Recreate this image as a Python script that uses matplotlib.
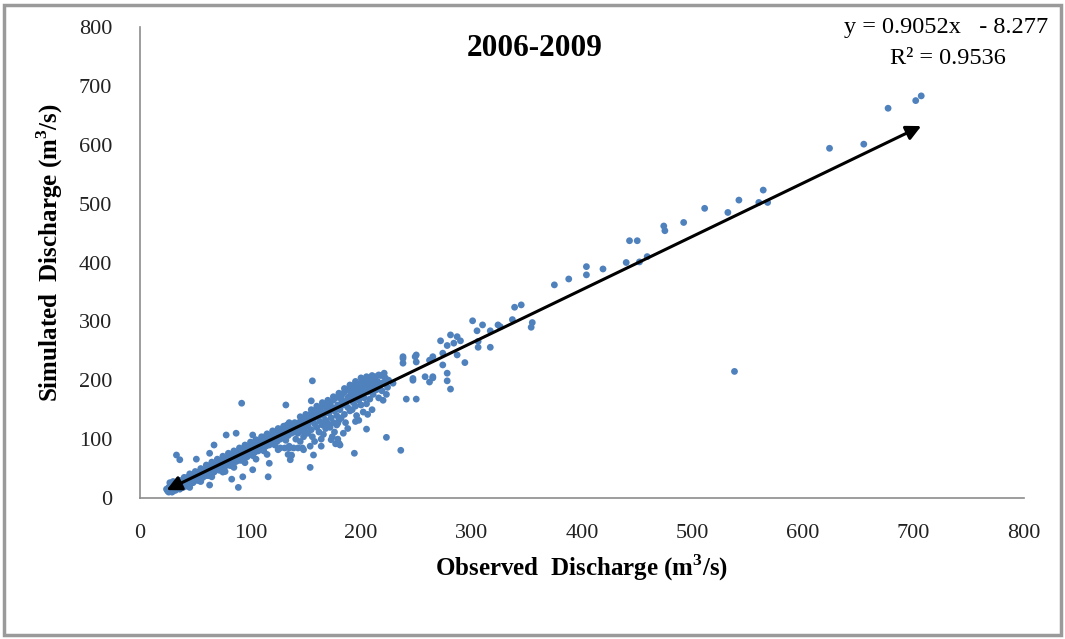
import matplotlib.pyplot as plt
from matplotlib.patches import Rectangle
import numpy as np

# trend line reported on the chart
slope = 0.9052
intercept = -8.277
r2 = 0.9536

# dense band at the low end (observed, simulated)
band_obs = [25, 26, 27, 28, 29, 30, 31, 32, 33, 34, 35, 27, 30, 36, 38, 37, 40, 40, 42, 43,
            44, 45, 46, 48, 48, 50, 50, 52, 53, 54, 55, 56, 57, 58, 60, 60, 62, 63, 64, 65,
            66, 67, 68, 70, 70, 72, 73, 74, 75, 76, 77, 78, 80, 80, 82, 83, 84, 85, 86, 87,
            88, 90, 90, 92, 93, 94, 95, 96, 97, 98, 100, 100, 102, 103, 104, 105, 106, 107, 108, 110,
            110, 112, 113, 114, 115, 116, 117, 118, 120, 120, 122, 123, 124, 125, 126, 127, 128, 130, 130, 132,
            133, 134, 135, 136, 137, 138, 140, 140, 142,
            30, 33, 36, 39, 41, 44, 47, 49, 51, 54, 57, 59, 61, 64, 66, 69, 71, 74, 76, 79,
            81, 84, 86, 89, 91, 94, 96, 99, 101, 104, 106, 109, 111, 114, 116, 119, 121, 124, 126, 129,
            131, 134, 136, 139,
            45, 55, 65, 75, 85, 95, 105, 115, 125, 135, 38, 24, 26, 29, 32,
            35, 40, 45, 50, 55, 60, 65, 70, 75, 80, 85, 90, 95, 100, 105, 110, 115, 120, 125, 130, 135,
            42, 52, 62, 72, 82, 92, 102, 112, 122, 132, 28, 31, 34]
band_sim = [12, 18, 14, 22, 10, 16, 20, 13, 25, 18, 22, 26, 28, 15, 20, 27, 24, 32, 28, 35,
            22, 30, 38, 33, 26, 40, 30, 36, 44, 29, 40, 48, 35, 42, 50, 38, 45, 55, 40, 50,
            58, 44, 52, 60, 48, 56, 64, 50, 60, 68, 54, 62, 70, 56, 66, 74, 58, 68, 76, 62,
            72, 80, 64, 74, 84, 68, 78, 86, 70, 82, 90, 74, 86, 94, 78, 88, 96, 80, 92, 100,
            84, 96, 104, 88, 100, 106, 90, 102, 108, 94, 106, 112, 96, 110, 116, 100, 112, 120, 104, 116,
            124, 106, 118, 126, 110, 122, 128, 112, 124,
            12, 15, 20, 18, 26, 30, 28, 36, 33, 38, 44, 40, 48, 52, 46, 56, 52, 62, 58, 66,
            62, 70, 68, 76, 72, 80, 76, 86, 82, 90, 88, 96, 92, 100, 98, 104, 102, 108, 106, 114,
            112, 118, 116, 124,
            18, 28, 36, 44, 52, 60, 66, 74, 82, 88, 30, 15, 10, 24, 19,
            30, 35, 41, 45, 50, 56, 61, 66, 71, 76, 80, 85, 90, 95, 99, 104, 109, 114, 118, 122, 128,
            20, 30, 38, 47, 55, 64, 72, 80, 90, 98, 20, 24, 28]

# main cloud between 140 and 225
cloud_obs = [141, 142, 143, 144, 145, 146, 147, 148, 149, 150, 141, 145, 148, 150,
             151, 152, 153, 154, 155, 155, 156, 157, 158, 159, 160, 160, 152, 156, 158, 154,
             161, 162, 163, 164, 165, 165, 166, 167, 168, 169, 170, 170, 162, 166, 168, 164,
             171, 172, 173, 174, 175, 175, 176, 177, 178, 179, 180, 180, 172, 176, 178, 174, 179, 177,
             181, 182, 183, 184, 185, 185, 186, 187, 188, 189, 190, 190, 182, 186, 188, 184,
             191, 192, 193, 194, 195, 195, 196, 197, 198, 199, 200, 200, 192, 196, 198,
             201, 202, 203, 204, 205, 205, 206, 207, 208, 209, 210, 210, 202, 206,
             211, 212, 213, 214, 215, 216, 217, 218, 219, 220, 222, 224, 221, 225, 223,
             127, 131, 135, 139, 143, 147, 134, 137,
             145, 150, 155, 160, 165, 170, 175, 180, 185, 190, 195, 200, 205, 210,
             152, 158, 163, 168, 173, 178, 183, 188, 193, 198, 203, 208, 213, 218]
cloud_sim = [118, 126, 110, 122, 130, 114, 126, 134, 118, 128, 100, 96, 104, 110,
             136, 122, 140, 130, 144, 116, 134, 148, 126, 140, 150, 120, 110, 104, 96, 88,
             138, 152, 130, 146, 156, 124, 140, 158, 132, 150, 160, 126, 112, 108, 118, 100,
             144, 162, 136, 154, 166, 128, 148, 170, 140, 158, 172, 132, 120, 112, 124, 104, 100, 92,
             150, 168, 176, 158, 180, 142, 164, 184, 154, 172, 186, 148, 136, 128, 118, 110,
             178, 190, 162, 182, 194, 156, 172, 188, 166, 180, 196, 158, 150, 140, 132,
             186, 198, 170, 190, 200, 160, 180, 194, 168, 186, 202, 150, 146, 142,
             176, 196, 206, 184, 198, 170, 190, 208, 182, 196, 204, 188, 212, 200, 176,
             85, 85, 85, 85, 85, 85, 74, 72,
             138, 142, 150, 156, 162, 166, 172, 178, 186, 192, 198, 204, 206, 208,
             128, 136, 142, 146, 150, 152, 164, 170, 172, 176, 180, 184, 190, 194]

# scattered points read one by one
spread_obs = [33, 36, 51, 67, 78, 87, 63, 102, 92, 63, 89, 93, 102, 116, 117, 83, 77,
              132, 155, 156, 223, 236, 194, 154, 205, 195, 181, 164, 136, 137, 148, 157, 173, 179, 180,
              241, 250, 229, 238, 249, 247, 220, 208, 216, 190,
              262, 265, 278, 281, 294, 272, 281, 287, 290, 278, 284, 274, 274, 278, 287, 265, 262,
              250, 250, 238, 238, 258, 265, 247,
              301, 310, 305, 317, 324, 326, 306, 317, 306, 337, 355, 354, 339, 345, 375, 388,
              404, 404, 419, 440, 443, 450, 452, 459, 474, 475, 492, 511, 532, 542, 560, 564, 568,
              538, 624, 655, 677, 702, 707]
spread_sim = [73, 65, 66, 90, 107, 110, 76, 107, 161, 22, 18, 36, 48, 36, 59, 32, 45,
              158, 165, 199, 103, 81, 76, 52, 117, 130, 90, 88, 65, 73, 82, 73, 99, 127, 93,
              168, 168, 195, 237, 240, 200, 166, 195, 209, 189,
              197, 204, 199, 185, 230, 267, 277, 274, 267, 259, 263, 246, 226, 212, 243, 240, 234,
              243, 231, 240, 229, 206, 206, 203,
              301, 294, 284, 284, 294, 291, 266, 256, 256, 303, 298, 290, 324, 328, 362, 372,
              393, 379, 389, 400, 437, 437, 401, 410, 462, 454, 468, 492, 485, 506, 502, 523, 502,
              215, 594, 601, 662, 675, 683]

obs = np.array(band_obs + cloud_obs + spread_obs, dtype=float)
sim = np.array(band_sim + cloud_sim + spread_sim, dtype=float)

serif = ['Liberation Serif', 'DejaVu Serif']
plt.rcParams['font.family'] = serif
plt.rcParams['mathtext.fontset'] = 'custom'
plt.rcParams['mathtext.rm'] = 'Liberation Serif'
plt.rcParams['mathtext.bf'] = 'Liberation Serif:bold'

fig = plt.figure(figsize=(10.65, 6.39), dpi=100)
ax = fig.add_axes([140 / 1065, 1 - 498 / 639, 884 / 1065, 471 / 639])

ax.scatter(obs, sim, s=24, color='#4F81BD', edgecolors='none', zorder=2)

# double headed arrow following the trend line over the observed range
x0, x1 = obs.min(), obs.max()
ax.annotate('', xy=(x1, slope * x1 + intercept), xytext=(x0, slope * x0 + intercept),
            arrowprops=dict(arrowstyle='<|-|>', color='black', lw=2.2,
                            mutation_scale=22, shrinkA=0, shrinkB=0), zorder=3)

ax.set_xlim(0, 800)
ax.set_ylim(0, 800)
ax.set_xticks(np.arange(0, 801, 100))
ax.set_yticks(np.arange(0, 801, 100))
ax.tick_params(length=0, labelsize=16, colors='#222222')
ax.tick_params(axis='x', pad=19)
ax.tick_params(axis='y', pad=20)
for s in ['top', 'right']:
    ax.spines[s].set_visible(False)
for s in ['left', 'bottom']:
    ax.spines[s].set_color('#8c8c8c')
    ax.spines[s].set_linewidth(1.2)

xl = ax.set_xlabel(r'Observed  Discharge (m$^{\mathbf{3}}$/s)', fontsize=18, fontweight='bold')
yl = ax.set_ylabel(r'Simulated  Discharge (m$^{\mathbf{3}}$/s)', fontsize=18, fontweight='bold')
ax.xaxis.set_label_coords(0.5, (498 - 568) / 471)
ax.yaxis.set_label_coords((50 - 140) / 884, (498 - 253) / 471)
xl.set_verticalalignment('center')
yl.set_verticalalignment('center')

fig.text(535 / 1065, 1 - 48 / 639, '2006-2009', fontsize=22.5, fontweight='bold',
         ha='center', va='center')
fig.text(946 / 1065, 1 - 27 / 639, f'y = {slope}x   - {-intercept}', fontsize=17.5,
         ha='center', va='center')
fig.text(948 / 1065, 1 - 58 / 639, f'R² = {r2}', fontsize=17.5, ha='center', va='center')

fig.patches.append(Rectangle((4 / 1065, 4 / 639), 1057 / 1065, 630 / 639, transform=fig.transFigure,
                             fill=False, edgecolor='#9a9a9a', lw=2.5))

fig.savefig('out.png', dpi=100)
